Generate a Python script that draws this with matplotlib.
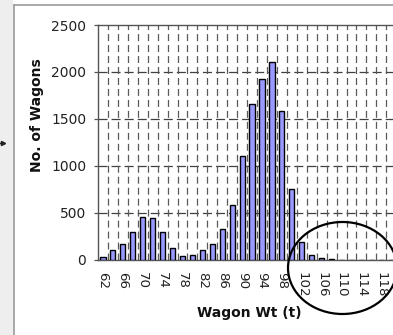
import matplotlib
matplotlib.use("Agg")
import matplotlib.pyplot as plt
from matplotlib.patches import Ellipse, Rectangle
from matplotlib.lines import Line2D

# wagon weight classes (t) and number of wagons in each
weights = list(range(62, 121, 2))
counts = [25, 105, 170, 300, 460, 440, 300, 125, 35, 55,
          105, 170, 330, 580, 1100, 1660, 1925, 2110, 1585, 750,
          185, 55, 15, 10, 0, 0, 0, 0, 0, 0]
y_ticks = [0, 500, 1000, 1500, 2000, 2500]

plt.rcParams["lines.scale_dashes"] = False

W, H = 393, 335
fig = plt.figure(figsize=(W / 100, H / 100), dpi=100)

# frame of the pasted chart: grey strip on the left, border lines
fig.patches.append(Rectangle((0, 0), 13 / W, 1, transform=fig.transFigure,
                             facecolor="#eeeeee", edgecolor="none", zorder=0))
fig.add_artist(Line2D([13.5 / W, 13.5 / W], [0, 1 - 4.5 / H], transform=fig.transFigure,
                      color="#9a9a9a", lw=1.2))
fig.add_artist(Line2D([13.5 / W, 1], [1 - 4.5 / H, 1 - 4.5 / H], transform=fig.transFigure,
                      color="#9a9a9a", lw=1.2))
# little arrow tip at the left edge
fig.add_artist(Line2D([0, 3 / W], [1 - 143 / H, 1 - 143 / H], transform=fig.transFigure,
                      color="#222222", lw=1.0, marker=">", markersize=3, markevery=[1]))

ax = fig.add_axes([98 / W, 75.3 / H, 298.2 / W, 234.7 / H])
x = list(range(len(weights)))
ax.bar(x, counts, width=0.52, color="#9999ff", edgecolor="black", linewidth=1.0, zorder=3)

ax.set_xlim(-0.5, len(weights) - 0.5)
ax.set_ylim(0, 2500)

# dashed gridlines: horizontal at major y ticks, vertical between categories
for v in y_ticks[1:-1]:
    ax.axhline(v, color="#404040", lw=0.9, dashes=(6.5, 2.9), zorder=1)
for i in range(len(weights)):
    ax.axvline(i + 0.5, color="#5a5a5a", lw=0.9, dashes=(5, 2.9), zorder=1)

ax.set_yticks(y_ticks)
ax.set_yticklabels([str(v) for v in y_ticks], fontsize=10, color="#222222")
ax.tick_params(axis="y", direction="out", length=3, width=0.9, pad=5.5, color="#555555")

ax.set_xticks(x[::2])
ax.set_xticklabels([str(w) for w in weights[::2]], rotation=-90, fontsize=9.6,
                   color="#222222", va="top", ha="center")
ax.tick_params(axis="x", length=0, pad=8.5)

for s in ("left", "bottom", "top"):
    ax.spines[s].set_color("#555555")
    ax.spines[s].set_linewidth(1.0)
ax.spines["right"].set_visible(False)

fig.text(37 / W, 1 - 115 / H, "No. of Wagons", rotation=90, fontsize=10,
         fontweight="bold", ha="center", va="center", color="#111111")
fig.text(249 / W, 1 - 313 / H, "Wagon Wt (t)", fontsize=10, fontweight="bold",
         ha="center", va="center", color="#111111")

# hand-drawn ring around the heavy tail
fig.add_artist(Ellipse((342.5 / W, 1 - 268 / H), 109 / W, 92 / H, transform=fig.transFigure,
                       fill=False, edgecolor="black", lw=1.6, zorder=5))

fig.savefig("out.png", dpi=100)
